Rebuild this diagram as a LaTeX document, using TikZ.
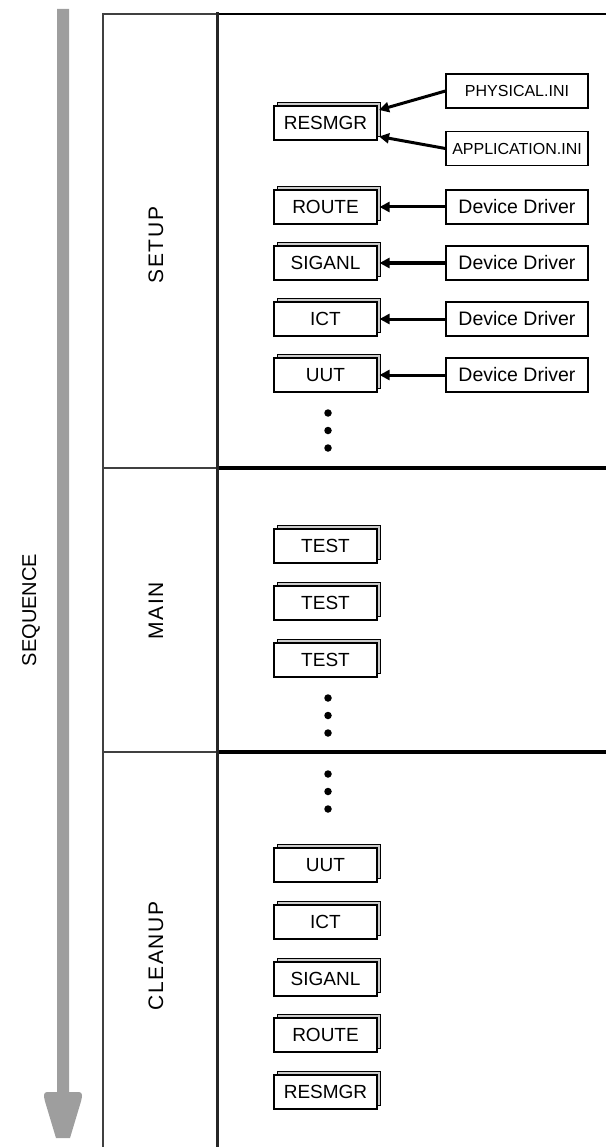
\documentclass[tikz,border=0pt]{standalone}
\usepackage{fontspec}
\setmainfont{Liberation Sans}
\newfontfamily\lanefont[LetterSpace=8]{Liberation Sans}
\usetikzlibrary{arrows.meta,shadows}
\begin{document}
\begin{tikzpicture}[x=1pt,y=-1pt,
 box/.style={draw=black, line width=1.1pt, fill=white, minimum width=103pt, minimum height=34pt, inner sep=0pt,
   font=\fontsize{19}{19}\selectfont,
   copy shadow={shadow xshift=3.5pt, shadow yshift=3.5pt, fill=black!20, draw=black, line width=1pt}},
 src/.style={draw=black, line width=1.1pt, fill=white, minimum width=142pt, minimum height=34pt, inner sep=0pt,
   font=\fontsize{19.5}{19.5}\selectfont},
 ini/.style={src, font=\fontsize{16}{16}\selectfont},
 feed/.style={-{Triangle[length=10pt,width=10pt]}, line width=3pt},
 dot/.style={circle, fill=black, inner sep=0pt, minimum size=7.5pt},
 lane/.style={rotate=90, font=\lanefont\fontsize{21}{21}\selectfont},
 thinrule/.style={draw=black!75, line width=2pt},
 thickrule/.style={draw=black, line width=3.5pt},
]
\useasboundingbox (0,0) rectangle (606,1147);

% sequence arrow
\fill[black!38] (57,9) -- (69,9) -- (69,1092)
  [rounded corners=3pt] -- (82,1092) -- (82,1098) [sharp corners] -- (70,1138) -- (56,1138)
  [rounded corners=3pt] -- (44,1098) -- (44,1092) [sharp corners] -- (57,1092) -- cycle;
\node[lane, font=\fontsize{20}{20}\selectfont] (seq) at (31,610) {SEQUENCE};

% frame
\draw[thinrule] (103,14) -- (217,14);
\draw[thinrule] (103,13) -- (103,1147);
\draw[thinrule] (103,468) -- (217,468);
\draw[thinrule] (103,752) -- (217,752);
\draw[draw=black, line width=2.5pt] (217,14) -- (606,14);
\draw[thickrule] (217,468) -- (606,468);
\draw[thickrule] (217,752) -- (606,752);
\draw[draw=black!85, line width=3pt] (217,12.5) -- (217,1147);

% lane labels
\node[lane] (setup) at (156,245) {SETUP};
\node[lane] (main) at (156,611) {MAIN};
\node[lane] (cleanup) at (156,956) {CLEANUP};

% setup
\node[box] (resmgr) at (325.5,123) {RESMGR};
\node[ini] (phys) at (517,91) {PHYSICAL.INI};
\node[ini] (appl) at (517,148.5) {APPLICATION.INI};
\coordinate (r1) at ([xshift=1.5pt,yshift=13pt]resmgr.east);
\coordinate (r2) at ([xshift=1.5pt,yshift=-13.5pt]resmgr.east);
\draw[feed] (phys.west) -- (r1);
\draw[feed] (appl.west) -- (r2);

\node[box] (route) at (325.5,207) {ROUTE};
\node[src] (dd1) at (517,207) {Device Driver};
\node[box] (siganl) at (325.5,263) {SIGANL};
\node[src] (dd2) at (517,263) {Device Driver};
\node[box] (ict) at (325.5,319) {ICT};
\node[src] (dd3) at (517,319) {Device Driver};
\node[box] (uut) at (325.5,375) {UUT};
\node[src] (dd4) at (517,375) {Device Driver};
\draw[feed] (dd1.west) -- ([xshift=2pt]route.east);
\draw[feed, line width=4pt] (dd2.west) -- ([xshift=2pt]siganl.east);
\draw[feed] (dd3.west) -- ([xshift=2pt]ict.east);
\draw[feed] (dd4.west) -- ([xshift=2pt]uut.east);

\node[dot] (sd1) at (328,413) {};
\node[dot] (sd2) at (328,430.5) {};
\node[dot] (sd3) at (328,448) {};

% main
\node[box] (test1) at (325.5,546) {TEST};
\node[box] (test2) at (325.5,603) {TEST};
\node[box] (test3) at (325.5,660) {TEST};
\node[dot] (md1) at (328,698) {};
\node[dot] (md2) at (328,715.5) {};
\node[dot] (md3) at (328,733) {};

% cleanup
\node[dot] (cd1) at (328,774) {};
\node[dot] (cd2) at (328,791.5) {};
\node[dot] (cd3) at (328,809) {};
\node[box] (cuut) at (325.5,865) {UUT};
\node[box] (cict) at (325.5,922) {ICT};
\node[box] (csig) at (325.5,979) {SIGANL};
\node[box] (croute) at (325.5,1035) {ROUTE};
\node[box] (cres) at (325.5,1092) {RESMGR};
\end{tikzpicture}
\end{document}
